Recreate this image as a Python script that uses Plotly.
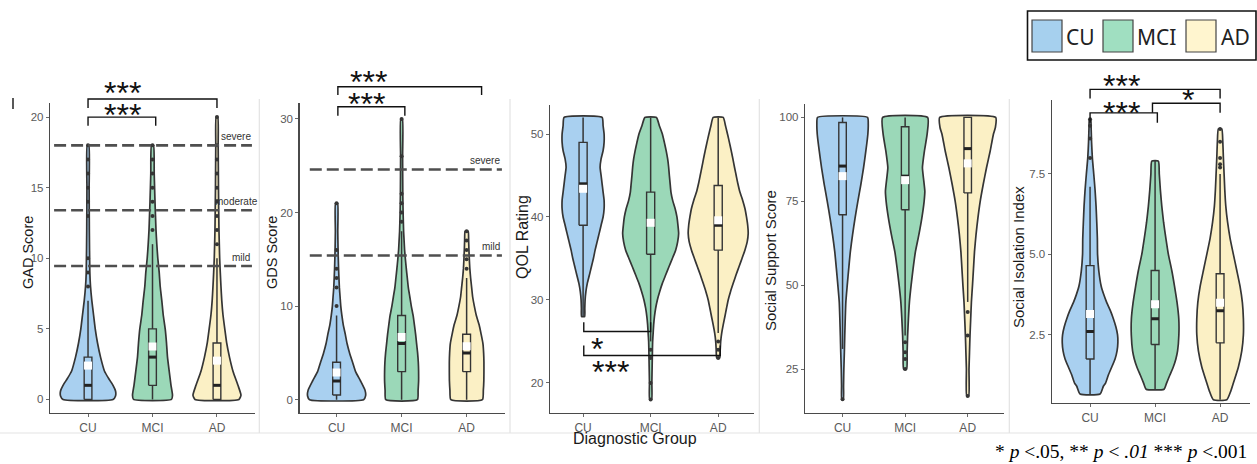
import plotly.graph_objects as go

W, H = 1257, 464
CATEGORIES = ["CU", "MCI", "AD"]
FILL_COLORS = ["#a9d0f0", "#9bd8b8", "#fbf0c5"]
LEGEND_COLORS = ["#a6d0ee", "#a0dfc1", "#fff5cf"]
OUTLINE = "#353535"
FONT = "Liberation Sans"

# ---------------- GAD ----------------
GAD_CU_Y = [0, 0.25, 0.6, 1, 1.5, 2, 3, 4, 5, 6, 7, 8, 9, 12, 15, 18]
GAD_CU_D = [25, 27.5, 27.5, 25, 20.5, 16.5, 12.5, 9.5, 7.2, 5.5, 3.8, 2.5, 1.8, 1.3, 1.1, 0.8]
GAD_MCI_Y = [0, 0.3, 1, 2, 3, 4, 5, 6, 7, 8, 9, 10, 11, 12, 13, 14, 16, 18]
GAD_MCI_D = [19, 20, 18.5, 16.7, 15, 14, 12.7, 10.7, 9.3, 7.7, 6.7, 5.3, 4.3, 3.5, 3, 2.5, 1.7, 1]
GAD_AD_Y = [0, 0.3, 1, 2, 3, 4, 5, 6, 7, 8, 9, 10, 12, 15, 18, 20]
GAD_AD_D = [22, 24, 21, 16, 12.5, 9.7, 7.8, 6, 4.8, 4, 3.3, 2.7, 2, 1.5, 1.2, 0.8]
GAD_Q1 = [0, 1, 0]
GAD_MED = [1, 3, 1]
GAD_Q3 = [3, 5, 4]
GAD_LO = [0, 0, 0]
GAD_HI = [7, 11, 10]
GAD_MEAN = [2.4, 3.75, 2.75]
GAD_OUT_CU = [8, 9, 10, 13, 14, 15, 16, 17, 18]
GAD_OUT_MCI = [12, 13, 14, 15, 16, 17, 18]
GAD_OUT_AD = [11, 12, 13, 14, 15, 16, 17, 18, 20]
GAD_TICKS = [0, 5, 10, 15, 20]
GAD_CUTOFFS = [18, 13.4, 9.45]
GAD_CUTOFF_LABELS = ["severe", "moderate", "mild"]

# ---------------- GDS ----------------
GDS_CU_Y = [0, 0.4, 1, 2, 3, 4, 5, 6, 7, 8, 9, 10, 11, 12, 14, 16, 18, 21]
GDS_CU_D = [27, 29, 28.5, 24, 19, 16, 13, 10.5, 8.7, 6.7, 5.3, 4.2, 3.5, 2.8, 2, 1.5, 1.2, 1]
GDS_MCI_Y = [0, 1, 2, 3, 4, 5, 6, 7, 8, 9, 10, 11, 12, 13, 14, 15, 16, 17, 18, 20, 22, 26, 30]
GDS_MCI_D = [15.8, 16.5, 17, 17, 16.7, 16, 15, 14, 12.8, 11.5, 9.7, 8.2, 6.7, 5.7, 4.7, 3.8, 3, 2.5, 2, 1.5, 1.2, 1, 0.8]
GDS_AD_Y = [0, 1, 2, 3, 4, 5, 6, 7, 8, 9, 10, 11, 12, 13, 14, 15, 16, 17, 18]
GDS_AD_D = [15.8, 16.7, 17.2, 17.3, 17.3, 17, 16.3, 14.5, 12.5, 9.7, 7.7, 6, 5, 4, 3.2, 2.7, 2.3, 2, 1.5]
GDS_Q1 = [0.5, 3, 3]
GDS_MED = [2, 6, 5]
GDS_Q3 = [4, 9, 7]
GDS_LO = [0, 0, 0]
GDS_HI = [9, 18, 13]
GDS_MEAN = [2.9, 6.7, 5.7]
GDS_OUT_CU = [10, 12, 13, 14, 16, 21]
GDS_OUT_MCI = [19, 20, 21, 22, 26, 30]
GDS_OUT_AD = [14, 15, 16, 17, 18]
GDS_TICKS = [0, 10, 20, 30]
GDS_CUTOFFS = [24.6, 15.4]
GDS_CUTOFF_LABELS = ["severe", "mild"]

# ---------------- QOL ----------------
QOL_CU_Y = [28, 29, 30, 31, 32, 33, 34, 35, 36, 37, 38, 39, 40, 41, 42, 43, 44, 45, 46, 47, 48, 49, 50, 51, 52]
QOL_CU_D = [1.5, 1.7, 2, 2.8, 4.2, 6.3, 8.3, 10.3, 12, 14, 16, 18, 20, 21, 21, 20, 19, 18, 17, 18, 20, 21, 21, 20, 19]
QOL_MCI_Y = [18, 20, 22, 24, 25, 26, 27, 28, 29, 30, 31, 32, 33, 34, 35, 36, 37, 38, 39, 40, 41, 42, 43, 44, 45, 46,
             47, 48, 49, 50, 51, 52]
QOL_MCI_D = [1, 1.2, 1.5, 1.8, 2, 2.5, 3, 3.8, 5, 6.7, 9, 11.7, 15, 18.3, 21.7, 25, 27, 28, 27.3, 26.3, 24.5, 22,
             20.3, 19.5, 18.7, 18, 17, 15.5, 13.7, 11.7, 8.7, 5.8]
QOL_AD_Y = [23, 24, 25, 26, 27, 28, 29, 30, 31, 32, 33, 34, 35, 36, 37, 38, 39, 40, 41, 42, 43, 44, 45, 46, 47, 48,
            49, 50, 51, 52]
QOL_AD_D = [1.5, 2, 2.5, 3.5, 5, 6.7, 8.3, 10, 12.3, 15, 17.8, 20.8, 23.8, 26.7, 29, 30, 29.5, 28.3, 26.8, 24.5,
            21.7, 19.7, 18, 16.3, 14.7, 13, 11.2, 9.3, 7.3, 5]
QOL_Q1 = [39, 35.5, 36]
QOL_MED = [44, 39.2, 39]
QOL_Q3 = [49, 43, 43.8]
QOL_LO = [28, 25, 26]
QOL_HI = [52, 52, 52]
QOL_MEAN = [43.4, 39.3, 39.6]
QOL_OUT_CU = []
QOL_OUT_MCI = [24, 23, 20, 18]
QOL_OUT_AD = [25, 24, 23]
QOL_TICKS = [20, 30, 40, 50]

# ---------------- Social support ----------------
SS_CU_Y = [16, 20, 25, 30, 35, 40, 45, 50, 55, 60, 65, 70, 75, 80, 85, 90, 95, 98, 100]
SS_CU_D = [0.8, 1, 1.3, 1.8, 2.2, 2.7, 3.3, 4.7, 6.2, 7.8, 10, 12.5, 15.3, 18.3, 21, 23.3, 25.3, 25.7, 25]
SS_MCI_Y = [25, 30, 35, 40, 45, 50, 55, 60, 65, 70, 75, 78, 82, 85, 90, 95, 100]
SS_MCI_D = [1.5, 2, 2.5, 3.3, 4.3, 6, 8, 10.3, 13.7, 16.7, 19, 19.7, 18.3, 17.3, 19.3, 22, 22.5]
SS_AD_Y = [17, 25, 30, 35, 40, 45, 50, 55, 60, 65, 70, 75, 80, 85, 90, 95, 97, 100]
SS_AD_D = [1, 1.3, 1.8, 2.3, 3, 3.7, 4.8, 5.8, 6.8, 8.3, 10.2, 12.5, 15.5, 18.8, 22.5, 25.7, 27.7, 28]
SS_Q1 = [71, 72.5, 77.5]
SS_MED = [85.5, 82.5, 90.7]
SS_Q3 = [98.5, 97.2, 100]
SS_LO = [31, 35, 45]
SS_HI = [100, 100, 100]
SS_MEAN = [82.5, 81.3, 86.3]
SS_OUT_CU = [16]
SS_OUT_MCI = [33, 30, 28, 25]
SS_OUT_AD = [42, 35, 17]
SS_TICKS = [25, 50, 75, 100]

# ---------------- Social isolation ----------------
SI_CU_Y = [0.66, 0.9, 1, 1.25, 1.5, 1.75, 2, 2.25, 2.5, 2.75, 3, 3.25, 3.5, 3.75, 4, 4.5, 5, 5.5, 6, 6.5, 7, 7.5, 8,
           8.5, 9, 9.2]
SI_CU_D = [10, 13.3, 15.5, 18.3, 21.7, 25, 27, 27.8, 27.5, 25.8, 23.3, 20.3, 16.7, 13.7, 11.2, 8.7, 7.5, 7.3, 6.7, 6,
           5, 3.7, 2.3, 1.5, 1, 0.7]
SI_MCI_Y = [0.81, 1, 1.25, 1.5, 1.75, 2, 2.5, 3, 3.5, 4, 4.5, 5, 5.5, 6, 6.5, 7, 7.5, 7.9]
SI_MCI_D = [9, 11.5, 14.8, 18.2, 20.8, 22.5, 23.8, 23.7, 22, 19.5, 16.7, 13.3, 10.8, 8.5, 6.7, 5.3, 4.2, 3.3]
SI_AD_Y = [0.48, 0.75, 1, 1.5, 2, 2.5, 3, 3.5, 4, 4.5, 5, 5.5, 6, 6.5, 7, 7.5, 8, 8.5, 8.9]
SI_AD_D = [6.7, 10.7, 13.3, 18.3, 21.7, 23.3, 23.3, 22.3, 20, 16.7, 13.3, 10, 7.5, 5.7, 4.7, 4, 3.3, 2.7, 1.7]
SI_Q1 = [1.75, 2.2, 2.25]
SI_MED = [2.6, 3.0, 3.25]
SI_Q3 = [4.65, 4.5, 4.4]
SI_LO = [0.66, 0.81, 0.48]
SI_HI = [7.1, 7.9, 7.5]
SI_MEAN = [3.15, 3.45, 3.5]
SI_OUT_CU = [8, 8.6, 9, 9.2]
SI_OUT_MCI = []
SI_OUT_AD = [7.7, 7.8, 8, 8.5, 8.9]
SI_TICKS = [2.5, 5.0, 7.5]

PANEL_TITLES = ["GAD Score", "GDS Score", "QOL Rating", "Social Support Score", "Social Isolation Index"]
X_TITLE = "Diagnostic Group"
FOOTNOTE = "* <i>p</i> &lt;.05, ** <i>p</i> &lt; <i>.01</i> *** <i>p</i> &lt;.001"

# ---------------- layout geometry (pixels) ----------------
PANEL_PX = [(50, 255, 103, 413), (299.5, 505, 103, 413), (550, 754, 105, 413),
            (805, 1004, 104, 413), (1051.7, 1250, 100, 403)]
X_RANGES = [(-0.59, 2.59), (-0.57, 2.59), (-0.49, 2.53), (-0.6, 2.58), (-0.59, 2.46)]
Y_RANGES = [(-0.96, 21.0), (-1.42, 31.7), (16.37, 53.5), (11.9, 104), (0.38, 9.8)]
TITLE_POS = [(28, 253, 14.5), (272, 253, 14.5), (522, 237, 16), (770, 260, 15), (1018, 257, 15)]
TICK_FMT = ["d", "d", "d", "d", ".1f"]
BOX_HALF = 0.06

panels = [
    dict(v=[(GAD_CU_Y, GAD_CU_D), (GAD_MCI_Y, GAD_MCI_D), (GAD_AD_Y, GAD_AD_D)],
         q1=GAD_Q1, med=GAD_MED, q3=GAD_Q3, lo=GAD_LO, hi=GAD_HI, mean=GAD_MEAN,
         out=[GAD_OUT_CU, GAD_OUT_MCI, GAD_OUT_AD], ticks=GAD_TICKS),
    dict(v=[(GDS_CU_Y, GDS_CU_D), (GDS_MCI_Y, GDS_MCI_D), (GDS_AD_Y, GDS_AD_D)],
         q1=GDS_Q1, med=GDS_MED, q3=GDS_Q3, lo=GDS_LO, hi=GDS_HI, mean=GDS_MEAN,
         out=[GDS_OUT_CU, GDS_OUT_MCI, GDS_OUT_AD], ticks=GDS_TICKS),
    dict(v=[(QOL_CU_Y, QOL_CU_D), (QOL_MCI_Y, QOL_MCI_D), (QOL_AD_Y, QOL_AD_D)],
         q1=QOL_Q1, med=QOL_MED, q3=QOL_Q3, lo=QOL_LO, hi=QOL_HI, mean=QOL_MEAN,
         out=[QOL_OUT_CU, QOL_OUT_MCI, QOL_OUT_AD], ticks=QOL_TICKS),
    dict(v=[(SS_CU_Y, SS_CU_D), (SS_MCI_Y, SS_MCI_D), (SS_AD_Y, SS_AD_D)],
         q1=SS_Q1, med=SS_MED, q3=SS_Q3, lo=SS_LO, hi=SS_HI, mean=SS_MEAN,
         out=[SS_OUT_CU, SS_OUT_MCI, SS_OUT_AD], ticks=SS_TICKS),
    dict(v=[(SI_CU_Y, SI_CU_D), (SI_MCI_Y, SI_MCI_D), (SI_AD_Y, SI_AD_D)],
         q1=SI_Q1, med=SI_MED, q3=SI_Q3, lo=SI_LO, hi=SI_HI, mean=SI_MEAN,
         out=[SI_OUT_CU, SI_OUT_MCI, SI_OUT_AD], ticks=SI_TICKS),
]


def px_x(x):
    return x / W


def px_y(y):
    return 1 - y / H


def axis_names(k):
    s = "" if k == 0 else str(k + 1)
    return "x" + s, "y" + s


def dom_x(k, v):
    a, b = X_RANGES[k]
    return (v - a) / (b - a)


def dom_y(k, v):
    a, b = Y_RANGES[k]
    return (v - a) / (b - a)


fig = go.Figure()
shapes = []
annotations = []
layout_axes = {}

for k, p in enumerate(panels):
    xa, ya = axis_names(k)
    x0, x1, yt, yb = PANEL_PX[k]
    px_per_unit = (x1 - x0) / (X_RANGES[k][1] - X_RANGES[k][0])
    scale = 1.0 / px_per_unit
    # violins
    for i, (ys, ds) in enumerate(p["v"]):
        right = [i + d * scale for d in ds]
        left = [i - d * scale for d in ds[::-1]]
        xs = right + left + [right[0]]
        yy = list(ys) + list(ys[::-1]) + [ys[0]]
        fig.add_trace(go.Scatter(x=xs, y=yy, mode="lines", fill="toself", fillcolor=FILL_COLORS[i],
                                 line=dict(color=OUTLINE, width=1.7, shape="spline", smoothing=0.5),
                                 xaxis=xa, yaxis=ya, showlegend=False, hoverinfo="skip"))
    # whiskers + boxes (drawn from the quartile arrays)
    wx, wy, bx, by = [], [], [], []
    for i in range(3):
        wx += [i, i, None, i, i, None]
        wy += [p["lo"][i], p["q1"][i], None, p["q3"][i], p["hi"][i], None]
        bx += [i - BOX_HALF, i + BOX_HALF, i + BOX_HALF, i - BOX_HALF, i - BOX_HALF, None]
        by += [p["q1"][i], p["q1"][i], p["q3"][i], p["q3"][i], p["q1"][i], None]
    fig.add_trace(go.Scatter(x=wx, y=wy, mode="lines", line=dict(color=OUTLINE, width=1.5),
                             xaxis=xa, yaxis=ya, showlegend=False, hoverinfo="skip"))
    fig.add_trace(go.Scatter(x=bx, y=by, mode="lines", line=dict(color=OUTLINE, width=1.4),
                             xaxis=xa, yaxis=ya, showlegend=False, hoverinfo="skip"))
    # outliers
    for i, outs in enumerate(p["out"]):
        if outs:
            fig.add_trace(go.Scatter(x=[i] * len(outs), y=outs, mode="markers",
                                     marker=dict(color=OUTLINE, size=4),
                                     xaxis=xa, yaxis=ya, showlegend=False, hoverinfo="skip"))
    # thick median lines
    mx, my = [], []
    for i, m in enumerate(p["med"]):
        mx += [i - BOX_HALF, i + BOX_HALF, None]
        my += [m, m, None]
    fig.add_trace(go.Scatter(x=mx, y=my, mode="lines", line=dict(color="#222222", width=3),
                             xaxis=xa, yaxis=ya, showlegend=False, hoverinfo="skip"))
    # means
    fig.add_trace(go.Scatter(x=[0, 1, 2], y=p["mean"], mode="markers",
                             marker=dict(symbol="square", color="white", size=8, line=dict(width=0)),
                             xaxis=xa, yaxis=ya, showlegend=False, hoverinfo="skip"))

    layout_axes["xaxis" + ("" if k == 0 else str(k + 1))] = dict(
        domain=[px_x(x0), px_x(x1)], anchor=ya, range=list(X_RANGES[k]),
        tickvals=[0, 1, 2], ticktext=CATEGORIES, showline=True, linecolor="#4a4a4a", linewidth=1.2,
        ticks="outside", ticklen=3, tickcolor="#6a6a6a", showgrid=False, zeroline=False,
        tickfont=dict(family=FONT, size=12, color="#5a5a5a"), fixedrange=True)
    layout_axes["yaxis" + ("" if k == 0 else str(k + 1))] = dict(
        domain=[px_y(yb), px_y(yt)], anchor=xa, range=list(Y_RANGES[k]),
        tickvals=p["ticks"], tickformat=TICK_FMT[k], showline=True, linecolor="#4a4a4a", linewidth=1.2,
        ticks="outside", ticklen=3, tickcolor="#6a6a6a", showgrid=False, zeroline=False,
        tickfont=dict(family=FONT, size=11.5, color="#5a5a5a"), fixedrange=True)

    tx, ty, ts = TITLE_POS[k]
    annotations.append(dict(text=PANEL_TITLES[k], x=px_x(tx), y=px_y(ty), xref="paper", yref="paper",
                            textangle=-90, showarrow=False, xanchor="center", yanchor="middle",
                            font=dict(family=FONT, size=ts, color="#1a1a1a")))

# ---------- threshold lines ----------
for k, cuts, labels, xs0, xs1, lab_x in [(0, GAD_CUTOFFS, GAD_CUTOFF_LABELS, 0.02, 0.985, [0.99, 1.025, 0.985]),
                                          (1, GDS_CUTOFFS, GDS_CUTOFF_LABELS, 0.05, 0.985, [0.985, 0.985])]:
    xa, ya = axis_names(k)
    for c, lab, lx in zip(cuts, labels, lab_x):
        shapes.append(dict(type="line", xref=xa + " domain", yref=ya, x0=xs0, x1=xs1, y0=c, y1=c,
                           line=dict(color="#4f4f4f", width=2.6, dash="12px,5px")))
        annotations.append(dict(text=lab, xref=xa + " domain", yref=ya + " domain", x=lx,
                                y=dom_y(k, c) + 9 / (PANEL_PX[k][3] - PANEL_PX[k][2]),
                                xanchor="right", yanchor="middle", showarrow=False,
                                font=dict(family=FONT, size=10, color="#333333")))


# ---------- significance brackets ----------
def bracket(k, xl, xr, yh, yl_left, yl_right):
    xa, ya = axis_names(k)
    pts = [(xl, yl_left), (xl, yh), (xr, yh), (xr, yl_right)]
    path = "M " + " L ".join(f"{dom_x(k, a):.5f},{dom_y(k, b):.5f}" for a, b in pts)
    shapes.append(dict(type="path", path=path, xref=xa + " domain", yref=ya + " domain",
                       line=dict(color="#111111", width=1.4)))


def stars(k, x, y, txt, size=32):
    xa, ya = axis_names(k)
    annotations.append(dict(text=txt, xref=xa + " domain", yref=ya + " domain", x=dom_x(k, x),
                            y=dom_y(k, y), xanchor="center", yanchor="middle", showarrow=False,
                            yshift=-5, font=dict(family=FONT, size=size, color="#111111")))


bracket(0, 0, 2.0, 21.28, 20.64, 20.64)
bracket(0, 0, 1.05, 20.0, 19.38, 19.38)
stars(0, 0.54, 22.08, "***")
stars(0, 0.54, 20.47, "***")

bracket(1, 0.02, 2.23, 33.44, 32.55, 32.55)
bracket(1, 0.02, 1.05, 31.3, 30.35, 30.35)
stars(1, 0.49, 34.5, "***")
stars(1, 0.46, 32.1, "***")

bracket(2, 0.01, 1.0, 26.2, 27.3, 27.3)
bracket(2, 0.01, 2.03, 23.3, 24.5, 24.5)
stars(2, 0.2, 24.7, "*")
stars(2, 0.4, 21.9, "***")

bracket(4, 0, 2.0, 10.13, 9.85, 9.85)
bracket(4, 0.96, 2.0, 9.70, 9.40, 9.40)
bracket(4, 0, 1.035, 9.40, 9.09, 9.09)
stars(4, 0.49, 10.4, "***")
stars(4, 1.51, 9.95, "*")
stars(4, 0.49, 9.54, "***")

# ---------- panel separators ----------
SEP_COLOR = "#e3e3e3"
for sx in [259.3, 510, 759.3, 1009.3]:
    shapes.append(dict(type="line", xref="paper", yref="paper", x0=px_x(sx), x1=px_x(sx),
                       y0=px_y(99), y1=px_y(433), line=dict(color=SEP_COLOR, width=1.2)))
shapes.append(dict(type="line", xref="paper", yref="paper", x0=0, x1=1, y0=px_y(433), y1=px_y(433),
                   line=dict(color=SEP_COLOR, width=1.2)))
shapes.append(dict(type="line", xref="paper", yref="paper", x0=px_x(13), x1=px_x(13),
                   y0=px_y(98), y1=px_y(109), line=dict(color="#222222", width=1.5)))

# ---------- legend ----------
shapes.append(dict(type="rect", xref="paper", yref="paper", x0=px_x(1027.5), x1=px_x(1256),
                   y0=px_y(60), y1=px_y(11), line=dict(color="#111111", width=1.6), fillcolor="white"))
for (sx0, tx), col, lab in zip([(1032, 1064), (1103, 1134.5), (1186, 1218.5)], LEGEND_COLORS, CATEGORIES):
    shapes.append(dict(type="rect", xref="paper", yref="paper", x0=px_x(sx0), x1=px_x(sx0 + 30),
                       y0=px_y(52), y1=px_y(20), line=dict(color="#444444", width=1.2), fillcolor=col))
    annotations.append(dict(text=lab, xref="paper", yref="paper", x=px_x(tx), y=px_y(37),
                            xanchor="left", yanchor="middle", showarrow=False,
                            font=dict(family="Noto Sans", size=21, color="#222222")))

# ---------- figure texts ----------
annotations.append(dict(text=X_TITLE, xref="paper", yref="paper", x=px_x(635), y=px_y(438),
                        xanchor="center", yanchor="middle", showarrow=False,
                        font=dict(family=FONT, size=16, color="#1a1a1a")))
annotations.append(dict(text=FOOTNOTE, xref="paper", yref="paper", x=px_x(1249), y=px_y(451),
                        xanchor="right", yanchor="middle", showarrow=False,
                        font=dict(family="Liberation Serif", size=19.5, color="#000000")))

fig.update_layout(width=W, height=H, margin=dict(l=0, r=0, t=0, b=0), paper_bgcolor="white",
                  plot_bgcolor="rgba(0,0,0,0)", showlegend=False, shapes=shapes, annotations=annotations,
                  **layout_axes)

fig.write_html("out.html", config={"displayModeBar": False, "staticPlot": True},
               post_script="document.body.style.margin='0px';document.body.style.overflow='hidden';")
